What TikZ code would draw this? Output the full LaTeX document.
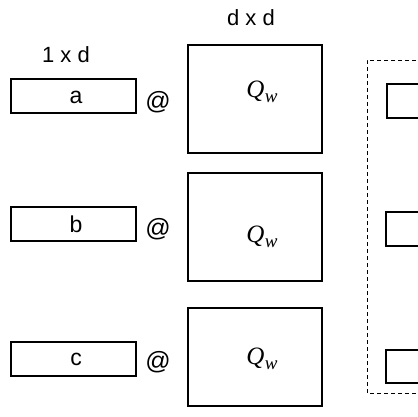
\documentclass[tikz,border=0pt]{standalone}
\usepackage{fontspec}
\setmainfont{Liberation Sans}
\newfontfamily\qfont{Liberation Serif}
\newcommand{\Qw}{{\qfont\itshape\fontsize{25}{29}\selectfont Q\kern0.5pt\raisebox{-4.5pt}{\fontsize{19}{22}\selectfont w}}}
\begin{document}
\begin{tikzpicture}[x=1pt,y=-1pt,
  box/.style={draw=black,line width=1.1pt},
  lbl/.style={font=\fontsize{22}{26}\selectfont,inner sep=0pt},
  atsign/.style={font=\fontsize{25}{29}\selectfont,inner sep=0pt},
  vec/.style={font=\fontsize{23}{27}\selectfont,inner sep=0pt},
  mat/.style={inner sep=0pt}]
\useasboundingbox (0,0) rectangle (417,417);
% labels
\node[lbl] (l1) at (66,55) {1 x d};
\node[lbl] (l2) at (251,18) {d x d};
% row vectors
\draw[box] (11,79) rectangle (136,113);
\node[vec] (a) at (76,97) {a};
\draw[box] (11,207) rectangle (136,241);
\node[vec] (b) at (76,224) {b};
\draw[box] (11,342) rectangle (136,376);
\node[vec] (c) at (76,359) {c};
% @ signs
\node[atsign] (at1) at (158,102) {@};
\node[atsign] (at2) at (158,229) {@};
\node[atsign] (at3) at (158,362) {@};
% matrices
\draw[box] (188,45) rectangle (322,153);
\node[mat] (q1) at (262,92) {\Qw};
\draw[box] (188,173) rectangle (322,281);
\node[mat] (q2) at (262,237) {\Qw};
\draw[box] (188,308) rectangle (322,406);
\node[mat] (q3) at (262,359) {\Qw};
% dashed group
\draw[line width=0.9pt,dash pattern=on 4pt off 3pt] (430,60) -- (367,60) -- (367,393) -- (430,393);
% right boxes
\draw[box] (430,84) -- (387,84) -- (387,118) -- (430,118);
\draw[box] (430,212) -- (386,212) -- (386,246) -- (430,246);
\draw[box] (430,350) -- (386,350) -- (386,383) -- (430,383);
\end{tikzpicture}
\end{document}
